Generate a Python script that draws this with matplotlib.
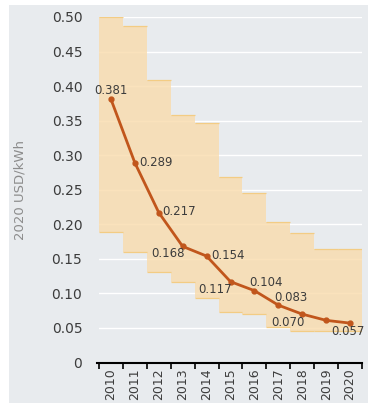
import numpy as np
import matplotlib
matplotlib.use("Agg")
import matplotlib.pyplot as plt
from matplotlib.patches import Rectangle

# LCOE of utility-scale solar PV, 2020 USD/kWh
years = np.arange(2010, 2021)
lcoe = [0.381, 0.289, 0.217, 0.168, 0.154, 0.117, 0.104, 0.083, 0.070, 0.061, 0.057]
band_high = [0.500, 0.487, 0.409, 0.358, 0.347, 0.268, 0.246, 0.203, 0.188, 0.164, 0.164]
band_low = [0.189, 0.160, 0.131, 0.116, 0.094, 0.073, 0.070, 0.051, 0.046, 0.045, 0.045]
labelled = [2010, 2011, 2012, 2013, 2014, 2015, 2016, 2017, 2018, 2020]

# label placement: (ha, dx px, dy px)
label_pos = {
    2010: ("center", 0, 9),
    2011: ("left", 4, 0),
    2012: ("left", 3, 1),
    2013: ("right", 2, -7),
    2014: ("left", 5, 1),
    2015: ("right", 1, -8),
    2016: ("left", -5, 8),
    2017: ("left", -4, 8),
    2018: ("right", 2, -8),
    2020: ("center", -2, -8),
}

bg = "#e8ebee"
line_c = "#c1561c"
band_c = "#f9dcae"
edge_c = "#f3cc84"
txt_c = "#3c3c3c"

fig = plt.figure(figsize=(3.74, 4.03), dpi=100)
fig.patch.set_facecolor("white")
fig.patches.append(Rectangle((9 / 374, 0), 359 / 374, 398 / 403,
                             transform=fig.transFigure, facecolor=bg,
                             edgecolor="none", zorder=-5))

ax = fig.add_axes([99 / 374, 40.5 / 403, 263 / 374, 345.5 / 403])
ax.set_facecolor("none")

edges = np.arange(2009.5, 2021.5, 1.0)
ax.grid(axis="y", color="white", linewidth=1.0, zorder=1)
ax.set_axisbelow(True)
ax.stairs(band_high, edges, baseline=band_low, fill=True, color=band_c,
          alpha=0.82, linewidth=0, zorder=2)
ax.hlines(band_high, edges[:-1], edges[1:], color=edge_c, linewidth=0.9, zorder=3)
ax.hlines(band_low, edges[:-1], edges[1:], color=edge_c, linewidth=0.9, zorder=3)

ax.plot(years, lcoe, color=line_c, linewidth=2.0, marker="o", markersize=3.5, zorder=5)

for yr in labelled:
    v = lcoe[yr - 2010]
    ha, dx, dy = label_pos[yr]
    ax.annotate(f"{v:.3f}", (yr, v), xytext=(dx, dy), textcoords="offset pixels",
                ha=ha, va="center", fontsize=8.5, color=txt_c, zorder=6)

ax.set_xlim(2009.5, 2020.5)
ax.set_ylim(0, 0.5)

yt = np.round(np.arange(0, 0.51, 0.05), 2)
ax.set_yticks(yt)
ax.set_yticklabels(["0"] + [f"{t:.2f}" for t in yt[1:]], fontsize=10, color=txt_c)
ax.tick_params(axis="y", length=0, pad=12)

ax.set_xticks(edges)
ax.set_xticklabels([])
ax.set_xticks(years, minor=True)
ax.set_xticklabels([str(y) for y in years], minor=True, rotation=90,
                   fontsize=9, color=txt_c)
ax.tick_params(axis="x", which="major", length=4, width=1.2, color="black", direction="out")
ax.tick_params(axis="x", which="minor", length=0, pad=4)

for s in ["top", "right", "left"]:
    ax.spines[s].set_visible(False)
ax.spines["bottom"].set_color("black")
ax.spines["bottom"].set_linewidth(1.5)
ax.spines["bottom"].set_bounds(2009.4, 2020.5)

ax.set_ylabel("2020 USD/kWh", fontsize=9.5, color="#8c8c8c")
ax.yaxis.set_label_coords(-0.274, 0.5)

fig.savefig("out.png", dpi=100, facecolor=fig.get_facecolor())
